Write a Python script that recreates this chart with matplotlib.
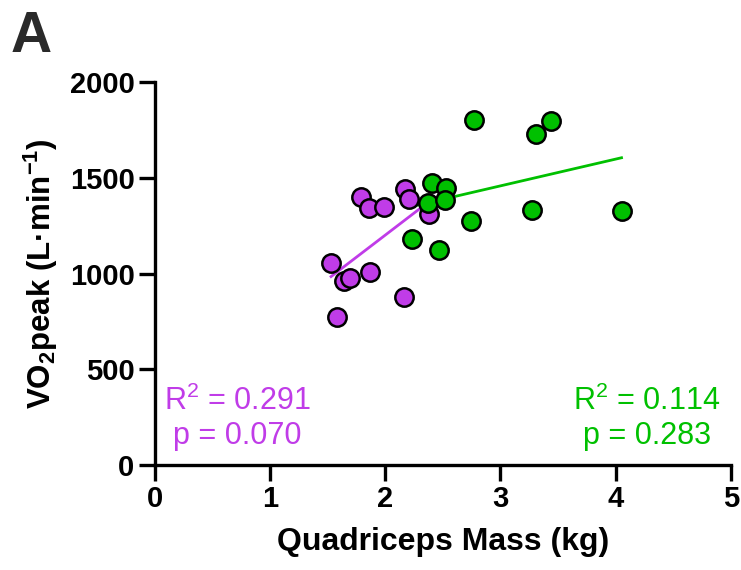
import numpy as np
import matplotlib
matplotlib.use("Agg")
import matplotlib.pyplot as plt

plt.rcParams['font.family'] = ['Liberation Sans', 'DejaVu Sans']
plt.rcParams['mathtext.default'] = 'regular'

purple_x = [1.53, 1.64, 1.69, 1.87, 1.79, 1.86, 1.99, 2.17, 2.21, 2.38, 2.16, 1.58]
purple_y = [1057, 963, 979, 1007, 1401, 1344, 1348, 1442, 1391, 1311, 880, 772]
green_x = [2.77, 3.44, 3.31, 2.41, 2.53, 2.37, 2.52, 3.27, 4.05, 2.74, 2.23, 2.47]
green_y = [1802, 1798, 1729, 1475, 1445, 1367, 1384, 1334, 1325, 1275, 1179, 1123]

purple_c = '#C03CE8'
green_c = '#00C000'

fig = plt.figure(figsize=(7.41, 5.70), dpi=100)
ax = fig.add_axes([0.2088, 0.1837, 0.7777, 0.6723])

def fitline(x, y, c):
    x = np.asarray(x); y = np.asarray(y)
    m, b = np.polyfit(x, y, 1)
    xs = np.array([x.min(), x.max()])
    ax.plot(xs, m * xs + b, color=c, lw=2.0, zorder=2)

fitline(purple_x, purple_y, purple_c)
fitline(green_x, green_y, green_c)

ax.scatter(purple_x, purple_y, s=175, color=purple_c, edgecolor='black', linewidth=1.8, zorder=3)
ax.scatter(green_x, green_y, s=175, color=green_c, edgecolor='black', linewidth=1.8, zorder=3)

ax.set_xlim(0, 5)
ax.set_ylim(0, 2000)
ax.set_xticks([0, 1, 2, 3, 4, 5])
ax.set_yticks([0, 500, 1000, 1500, 2000])
for s in ['top', 'right']:
    ax.spines[s].set_visible(False)
for s in ['left', 'bottom']:
    ax.spines[s].set_linewidth(2.4)
ax.tick_params(axis='both', direction='out', length=11.5, width=2.4, labelsize=21, pad=3)
for lab in ax.get_xticklabels() + ax.get_yticklabels():
    lab.set_fontweight('bold')

ax.set_xlabel('Quadriceps Mass (kg)', fontsize=23, fontweight='bold', labelpad=10)
ax.set_ylabel('VO$_2$peak (L·min$^{-1}$)', fontsize=22.5, fontweight='bold', labelpad=7)

ax.text(0.143, 0.123, 'R$^{2}$ = 0.291\np = 0.070', transform=ax.transAxes, ha='center', va='center',
        color=purple_c, fontsize=22, linespacing=1.2)
ax.text(0.854, 0.123, 'R$^{2}$ = 0.114\np = 0.283', transform=ax.transAxes, ha='center', va='center',
        color=green_c, fontsize=22, linespacing=1.2)

fig.text(0.014, 0.982, 'A', fontsize=41, fontweight='bold', ha='left', va='top', color='#2a2a2a')

fig.savefig('out.png', dpi=100)
